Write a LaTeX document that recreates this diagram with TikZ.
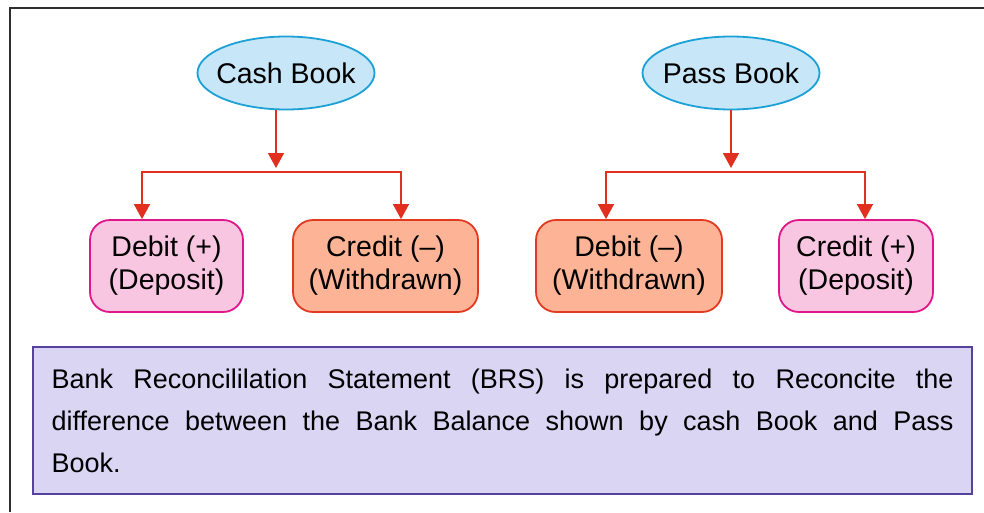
\documentclass[tikz,border=0pt]{standalone}
\usepackage{fontspec}
\setmainfont{Liberation Sans}
\usetikzlibrary{arrows.meta,shapes.geometric}

\definecolor{ovalfill}{HTML}{C7E6F7}
\definecolor{ovaldraw}{HTML}{1BA1D6}
\definecolor{pinkfill}{HTML}{F9C6E1}
\definecolor{pinkdraw}{HTML}{E0168A}
\definecolor{salmonfill}{HTML}{FDB496}
\definecolor{salmondraw}{HTML}{E23A21}
\definecolor{arrowred}{HTML}{E1301F}
\definecolor{notefill}{HTML}{DAD5F3}
\definecolor{notedraw}{HTML}{56419E}
\definecolor{framegray}{HTML}{2E2E2E}

% a line of text spread to the full note width
\newcommand\spreadline[1]{\leavevmode\hbox to 902pt{\spaceskip=7.5pt plus 1fil\relax #1}}
% text kept narrow so the ellipse keeps its set size
\newcommand\ovaltext[1]{\makebox[100pt]{#1}}

\tikzset{
  bookoval/.style={ellipse, draw=ovaldraw, fill=ovalfill, line width=1.8pt,
    minimum width=177pt, minimum height=73pt, inner sep=0pt,
    font=\fontsize{28.5}{33}\selectfont},
  entrybox/.style={rectangle, rounded corners=20pt, line width=1.8pt,
    minimum height=92pt, inner sep=0pt, align=center,
    font=\fontsize{28.5}{33}\selectfont},
  plusbox/.style={entrybox, draw=pinkdraw, fill=pinkfill},
  minusbox/.style={entrybox, draw=salmondraw, fill=salmonfill},
  arr/.style={draw=arrowred, line width=1.6pt,
    -{Triangle[width=16pt,length=15pt]}},
  notebox/.style={rectangle, draw=notedraw, fill=notefill, line width=2pt,
    minimum width=939pt, minimum height=147pt, inner xsep=18.5pt,
    inner ysep=0pt, text width=902pt, align=left,
    font=\fontsize{27}{42}\selectfont},
  outerframe/.style={draw=framegray, line width=2pt}
}

\begin{document}
\begin{tikzpicture}[x=1pt,y=-1pt]
\useasboundingbox (0,0) rectangle (984,512);

% outer frame (top and left edges)
\draw[outerframe] (10,512) -- (10,8) -- (984,8);

% the two books
\node[bookoval] (cash) at (286,73) {\ovaltext{Cash Book}};
\node[bookoval] (pass) at (731,73) {\ovaltext{Pass Book}};

% entry boxes
\node[plusbox,  minimum width=153pt] (d1) at (166.5,266) {Debit (+)\\(Deposit)};
\node[minusbox, minimum width=185pt] (c1) at (385.5,266) {Credit (–)\\(Withdrawn)};
\node[minusbox, minimum width=186pt] (d2) at (629,266) {Debit (–)\\(Withdrawn)};
\node[plusbox,  minimum width=154pt] (c2) at (856,266) {Credit (+)\\(Deposit)};

% branch points and arrow columns
\coordinate (cj) at (276,172);
\coordinate (pj) at (731,172);
\coordinate (a1) at (142,0);
\coordinate (a2) at (401,0);
\coordinate (a3) at (606,0);
\coordinate (a4) at (865,0);

% Cash Book branches
\draw[arr] (cash.south -| cj) -- ([yshift=4pt]cj);
\draw[arr] (cj) -| (d1.north -| a1);
\draw[arr] (cj) -| (c1.north -| a2);

% Pass Book branches
\draw[arr] (pass.south) -- ([yshift=4pt]pj);
\draw[arr] (pj) -| (d2.north -| a3);
\draw[arr] (pj) -| (c2.north -| a4);

% explanatory note
\node[notebox] (note) at (502.5,420.5)
  {\spreadline{Bank Reconcililation Statement (BRS) is prepared to Reconcite the}\\
   \spreadline{difference between the Bank Balance shown by cash Book and Pass}\\
   Book.};
\end{tikzpicture}
\end{document}
